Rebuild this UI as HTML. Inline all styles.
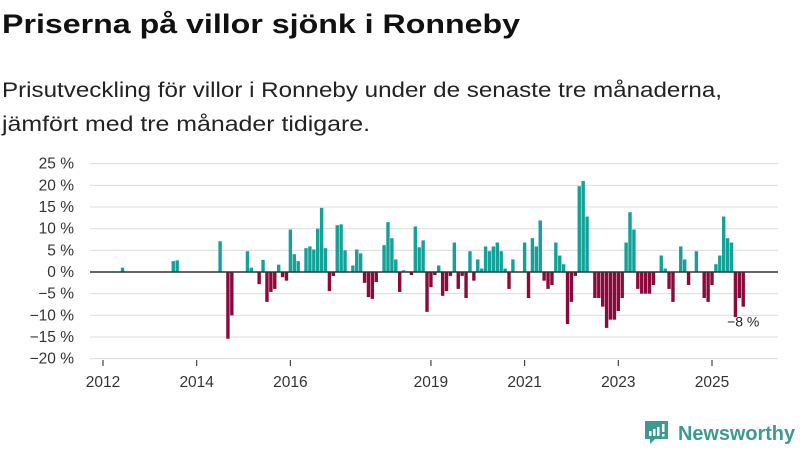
<!DOCTYPE html>
<html><head><meta charset="utf-8"><style>
body{margin:0;width:800px;height:450px;background:#fff;font-family:"Liberation Sans",sans-serif;overflow:hidden;position:relative}
svg{position:absolute;left:0;top:0}
</style></head><body>
<svg width="800" height="450">
<text x="2" y="33" font-size="27" font-weight="bold" fill="#111" textLength="518" lengthAdjust="spacingAndGlyphs">Priserna på villor sjönk i Ronneby</text>
<text x="2" y="97" font-size="21" fill="#222" textLength="720" lengthAdjust="spacingAndGlyphs">Prisutveckling för villor i Ronneby under de senaste tre månaderna,</text>
<text x="2" y="131" font-size="21" fill="#222" textLength="368" lengthAdjust="spacingAndGlyphs">jämfört med tre månader tidigare.</text>
</svg>
<svg id="c" width="800" height="450"></svg>
<script>
const startYear = 2012;
const monthIdx = [5,18,19,30,32,33,37,38,40,41,42,43,44,45,46,47,48,49,50,52,53,54,55,56,57,58,59,60,61,62,64,65,66,67,68,69,70,72,73,74,75,76,77,79,80,81,82,83,84,85,86,87,88,89,90,91,92,93,94,95,96,97,98,99,100,101,102,103,104,105,108,109,110,111,112,113,114,115,116,117,118,119,120,121,122,123,124,126,127,128,129,130,131,132,133,134,135,136,137,138,139,140,141,143,144,145,146,148,149,150,152,154,155,156,157,158,159,160,161,162,163,164];
const values = [1,2.5,2.7,7.1,-15.4,-10,4.8,1,-2.8,2.8,-6.9,-4.6,-3.9,1.7,-1.2,-2,9.8,4.1,2.5,5.5,5.9,5.2,10,14.8,5.5,-4.4,-0.9,10.8,11,5,1.5,5.2,4.3,-2.5,-5.8,-6.2,-2.3,6.2,11.5,7.8,2.9,-4.6,0.4,-0.7,10.5,5.7,7.3,-9.2,-3.5,-0.7,1.5,-5.5,-4.4,-0.9,6.8,-3.9,-0.9,-6,4.8,-2,2.9,0.8,5.9,4.8,5.9,6.8,4.8,0.8,-3.9,2.9,6.8,-6,7.8,5.9,11.9,-2,-3.9,-3,6.8,3.8,1.8,-12,-6.9,-0.9,19.8,21,12.8,-6,-6,-8,-12.9,-11,-11,-9,-6,6.8,13.8,9.8,-3.9,-5,-5,-5,-3,3.8,0.8,-3.9,-6.9,5.9,2.9,-3,4.8,-6,-6.9,-3,1.8,3.8,12.8,7.8,6.8,-10.4,-6,-8];
const yTicks = [25,20,15,10,5,0,-5,-10,-15,-20];
const xYears = [2012,2014,2016,2019,2021,2023,2025];
const lastLabel = "−8 %";

const NS="http://www.w3.org/2000/svg";
const svg=document.getElementById('c');
const x0=103, pxPerMonth=(712-103)/156;
const xs=m=>x0+m*pxPerMonth;
const y=v=>272-v*(195/45);
function mk(t,a,txt){const e=document.createElementNS(NS,t);for(const k in a)e.setAttribute(k,a[k]);if(txt!==undefined)e.textContent=txt;svg.appendChild(e);return e;}
yTicks.forEach(v=>{
  const g=mk('line',{x1:90,x2:778,y1:y(v),y2:y(v),stroke:'#dcdcdc','stroke-width':1});
  
  
  const t=mk('text',{x:74,y:y(v)+5,'text-anchor':'end','font-size':15.5,fill:'#333'},(v<0?'−'+(-v):v)+' %');
  
  
});
xYears.forEach(yr=>{
  const xx=xs((yr-startYear)*12);
  const tk=mk('line',{x1:xx,x2:xx,y1:360,y2:366,stroke:'#444','stroke-width':1.2});
  
  
  const t=mk('text',{x:xx,y:387,'text-anchor':'middle','font-size':15.5,fill:'#333'},yr);
  
  
});
monthIdx.forEach((m,i)=>{
  const v=values[i];const cx=xs(m);
  const r=mk('rect',{x:cx-1.7,width:3.4,y:Math.min(y(v),y(0)),height:Math.abs(y(v)-y(0)),fill:v>=0?'#13a198':'#8b0a3b'});
  
  
});
const z=mk('line',{x1:90,x2:778,y1:y(0),y2:y(0),stroke:'#333','stroke-width':1.6});


const li=monthIdx.length-1;
const lb=mk('text',{x:xs(monthIdx[li]),y:y(values[li])+20,'text-anchor':'middle','font-size':14,fill:'#222'},lastLabel);


</script>
<svg width="800" height="450">
<path d="M645 421h23v18h-13l-5 5v-5h-5z" fill="#3c9a93"/>
<rect x="649" y="431" width="2.5" height="5" fill="#fff"/><rect x="653" y="429" width="2.5" height="7" fill="#fff"/><rect x="657" y="427" width="2.5" height="9" fill="#fff"/><rect x="662" y="424" width="2.5" height="8" fill="#fff"/><rect x="662" y="434" width="2.5" height="2.5" fill="#fff"/>
<text x="678" y="440" font-size="20" font-family="Liberation Sans,sans-serif" fill="#3c9a93" font-weight="bold" textLength="117" lengthAdjust="spacingAndGlyphs">Newsworthy</text>
</svg>
</body></html>
